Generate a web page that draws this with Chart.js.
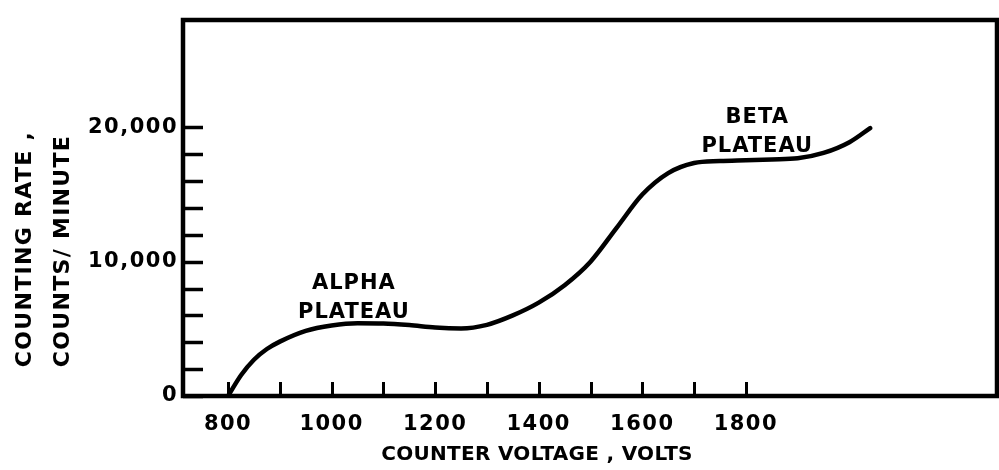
<!DOCTYPE html>
<html>
<head>
<meta charset="utf-8">
<title>Counting rate vs counter voltage</title>
<script src="https://cdn.jsdelivr.net/npm/chart.js@4/dist/chart.umd.min.js"></script>
<style>
  html, body { margin: 0; padding: 0; background: #ffffff; }
  #wrap { width: 999px; height: 470px; }
</style>
</head>
<body>
<div id="wrap"><canvas id="plot" width="999" height="470"></canvas></div>
<script>
// Counter voltage (V) and counting rate (counts/minute) along the characteristic curve
const voltage = [800, 825, 850, 875, 900, 950, 1000, 1050, 1100, 1150, 1200, 1250, 1300, 1350, 1400,
                 1450, 1500, 1550, 1600, 1650, 1700, 1750, 1800, 1850, 1900, 1950, 2000, 2040];
const countingRate = [0, 1550, 2700, 3500, 4050, 4850, 5250, 5420, 5400, 5280, 5100, 5030, 5300, 6000, 6950,
                      8250, 10000, 12500, 15000, 16600, 17350, 17500, 17560, 17620, 17700, 18100, 18900, 19950];

// Axis tick values
const xLabelValues = [800, 1000, 1200, 1400, 1600, 1800];   // labelled voltages
const xMarkMax = 1800;                                        // tick marks every 100 V up to here
const yLabelValues = [0, 10000, 20000];                       // labelled counting rates
const yMarkMax = 20000;                                       // tick marks every 2000 up to here

// Text
const xTitle = 'COUNTER VOLTAGE , VOLTS';
const yTitleLines = ['COUNTING RATE ,', 'COUNTS/ MINUTE'];
const regionLabels = [['ALPHA', 'PLATEAU'], ['BETA', 'PLATEAU']];

const FONT = '"DejaVu Sans", "Liberation Sans", sans-serif';
const INK = '#000000';

function fmt(v) {
  return v.toLocaleString('en-US');
}

// Wide hand-lettered look for the tick labels
const spacing = {
  id: 'spacing',
  beforeDraw(chart) { chart.ctx.letterSpacing = '1.5px'; },
  afterDraw(chart) { chart.ctx.letterSpacing = '0px'; }
};

// Frame, inward tick marks, titles and region labels
const decorations = {
  id: 'decorations',
  afterDraw(chart) {
    const { ctx, chartArea: a, scales: { x, y } } = chart;
    ctx.save();
    ctx.letterSpacing = '0px';
    ctx.strokeStyle = INK;
    ctx.lineCap = 'butt';

    // inward tick marks on the voltage axis
    ctx.lineWidth = 3;
    x.ticks.forEach(t => {
      if (t.value < 800 || t.value > xMarkMax) return;
      const px = Math.round(x.getPixelForValue(t.value)) + 0.5;
      ctx.beginPath();
      ctx.moveTo(px, a.bottom);
      ctx.lineTo(px, a.bottom - 14);
      ctx.stroke();
    });
    // inward tick marks on the rate axis
    ctx.lineWidth = 3.5;
    y.ticks.forEach(t => {
      if (t.value < 0 || t.value > yMarkMax) return;
      const py = Math.round(y.getPixelForValue(t.value)) + 0.5;
      ctx.beginPath();
      ctx.moveTo(a.left, py);
      ctx.lineTo(a.left + 20, py);
      ctx.stroke();
    });

    // frame
    ctx.lineWidth = 4.5;
    ctx.strokeRect(a.left, a.top, a.right - a.left, a.bottom - a.top);

    ctx.fillStyle = INK;
    ctx.textAlign = 'center';
    ctx.textBaseline = 'middle';

    // x title
    ctx.font = 'bold 20px ' + FONT;
    ctx.letterSpacing = '0.3px';
    ctx.fillText(xTitle, 537, 455);

    // y title (rotated, two lines)
    ctx.font = 'bold 22px ' + FONT;
    ctx.letterSpacing = '1.3px';
    ctx.save();
    ctx.translate(25, 249);
    ctx.rotate(-Math.PI / 2);
    ctx.fillText(yTitleLines[0], 0, 0);
    ctx.restore();
    ctx.save();
    ctx.translate(63, 251);
    ctx.rotate(-Math.PI / 2);
    ctx.fillText(yTitleLines[1], 0, 0);
    ctx.restore();

    // plateau labels, anchored in data space
    ctx.font = 'bold 21px ' + FONT;
    ctx.letterSpacing = '1px';
    const anchors = [[1043, 8400], [1822, 20750]];
    regionLabels.forEach((lines, i) => {
      const cx = x.getPixelForValue(anchors[i][0]);
      const cy = y.getPixelForValue(anchors[i][1]);
      lines.forEach((s, j) => ctx.fillText(s, cx, cy + j * 29));
    });
    ctx.restore();
  }
};

new Chart(document.getElementById('plot'), {
  type: 'line',
  data: {
    datasets: [{
      data: voltage.map((v, i) => ({ x: v, y: countingRate[i] })),
      borderColor: INK,
      borderWidth: 4.5,
      pointRadius: 0,
      fill: false,
      cubicInterpolationMode: 'monotone',
      borderCapStyle: 'round'
    }]
  },
  options: {
    responsive: false,
    animation: false,
    devicePixelRatio: 1,
    layout: { padding: { left: 0, right: 2, top: 20, bottom: 0 } },
    plugins: { legend: { display: false }, tooltip: { enabled: false } },
    scales: {
      x: {
        type: 'linear',
        min: 713,
        max: 2285,
        grid: { display: false, drawTicks: false },
        border: { display: false },
        ticks: {
          stepSize: 100,
          includeBounds: false,
          autoSkip: false,
          maxRotation: 0,
          padding: 16,
          color: INK,
          font: { family: FONT, weight: 'bold', size: 21 },
          callback: v => (xLabelValues.includes(v) ? String(v) : '')
        },
        afterFit(s) { s.height = 74; }
      },
      y: {
        type: 'linear',
        min: 0,
        max: 28000,
        grid: { display: false, drawTicks: false },
        border: { display: false },
        ticks: {
          stepSize: 2000,
          includeBounds: false,
          autoSkip: false,
          padding: 5,
          color: INK,
          font: { family: FONT, weight: 'bold', size: 21 },
          callback: v => (yLabelValues.includes(v) ? fmt(v) : '')
        },
        afterFit(s) { s.width = 183; }
      }
    }
  },
  plugins: [spacing, decorations]
});
</script>
</body>
</html>
